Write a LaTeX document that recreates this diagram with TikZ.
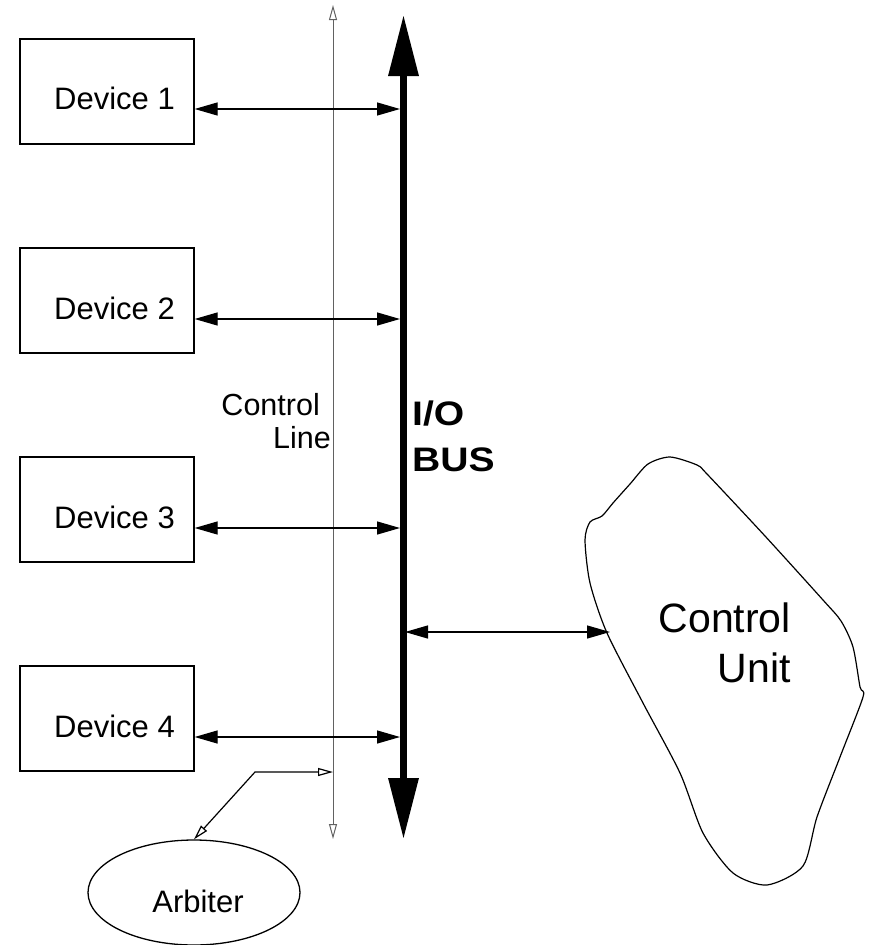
\documentclass[tikz,border=0pt]{standalone}
\usepackage{fontspec}
\setmainfont{Liberation Sans}
\usetikzlibrary{arrows.meta,shapes.geometric}

\tikzset{
  devbox/.style={draw, line width=1.3pt, minimum width=174pt, minimum height=105pt, inner sep=0pt},
  devtext/.style={anchor=base east, inner sep=0pt, font=\fontsize{31}{36}\selectfont},
  link/.style={line width=1.3pt, {Triangle[length=23pt,width=13pt]}-{Triangle[length=23pt,width=13pt]}},
  busline/.style={line width=6.5pt, {Triangle[length=61pt,width=29pt]}-{Triangle[length=61pt,width=29pt]}},
  ctlline/.style={draw=black!62, line width=1pt, {Triangle[open,length=15pt,width=8pt,fill=white]}-{Triangle[open,length=15pt,width=8pt,fill=white]}},
  arbline/.style={line width=1.2pt, {Triangle[open,length=15pt,width=8pt,fill=white]}-{Triangle[open,length=15pt,width=8pt,fill=white]}},
  plain/.style={inner sep=0pt, font=\fontsize{30.5}{36}\selectfont},
  bustext/.style={inner sep=0pt, anchor=base west, font=\bfseries\fontsize{34}{40}\selectfont},
}

\begin{document}
\begin{tikzpicture}[x=1pt, y=-1pt]
\useasboundingbox (0,0) rectangle (871,945);

% bus and control line end points
\coordinate (bustop) at (403.5,15);
\coordinate (busbot) at (403.5,839);
\coordinate (ctltop) at (333,5);
\coordinate (ctlbot) at (333,839);

% device boxes
\node[devbox] (d1) at (107,91.5) {};
\node[devbox] (d2) at (107,300.5) {};
\node[devbox] (d3) at (107,509.5) {};
\node[devbox] (d4) at (107,718.5) {};

\node[devtext] (d1t) at (175,109) {Device 1};
\node[devtext] (d2t) at (175,319) {Device 2};
\node[devtext] (d3t) at (175,528) {Device 3};
\node[devtext] (d4t) at (175,737) {Device 4};

% taps on the bus
\coordinate (b1) at (400,109);
\coordinate (b2) at (400,319);
\coordinate (b3) at (400,528);
\coordinate (b4) at (400,737);
\coordinate (bcu) at (405,632);

% control line
\draw[ctlline] (ctlbot) -- (ctltop);
\node[plain, anchor=base east] (cl1) at (320,415) {Control};
\node[plain, anchor=base east] (cl2) at (331,448) {Line};

% I/O bus
\draw[busline] (busbot) -- (bustop);
\node[bustext] (io1) at (412,425) {\scalebox{1.15}[1]{I/O}};
\node[bustext] (io2) at (412,471) {\scalebox{1.15}[1]{BUS}};

% device links
\draw[link] (d1.east |- b1) -- (b1);
\draw[link] (d2.east |- b2) -- (b2);
\draw[link] (d3.east |- b3) -- (b3);
\draw[link] (d4.east |- b4) -- (b4);

% control unit outline
\draw[line width=1.2pt] plot[smooth cycle, tension=0.45] coordinates {
  (648,464) (670,457) (697,465) (707,474) (765,536) (823,600) (841,621)
  (853,647) (860,687) (863,697) (840,757) (817,817) (803,866) (767,885)
  (733,873) (703,833) (680,773) (643,703) (607,633) (590,583) (585,540)
  (590,522) (602,516) (613,503) (630,484)};
\coordinate (cu) at (610,632);
\node[inner sep=0pt, anchor=base east, font=\fontsize{41}{48}\selectfont] (cut1) at (791,632) {Control};
\node[inner sep=0pt, anchor=base east, font=\fontsize{41}{48}\selectfont] (cut2) at (791,682) {Unit};
\draw[link] (bcu) -- (cu);

% arbiter
\node[draw, line width=1.3pt, ellipse, minimum width=212pt, minimum height=105pt, inner sep=0pt] (arb) at (194,892.5) {};
\node[inner sep=0pt, anchor=base, font=\fontsize{31}{36}\selectfont] (arbt) at (198,912) {Arbiter};
\coordinate (bend) at (255,772);
\draw[arbline] (arb.north) -- (bend) -- (ctlbot |- bend);
\end{tikzpicture}
\end{document}
